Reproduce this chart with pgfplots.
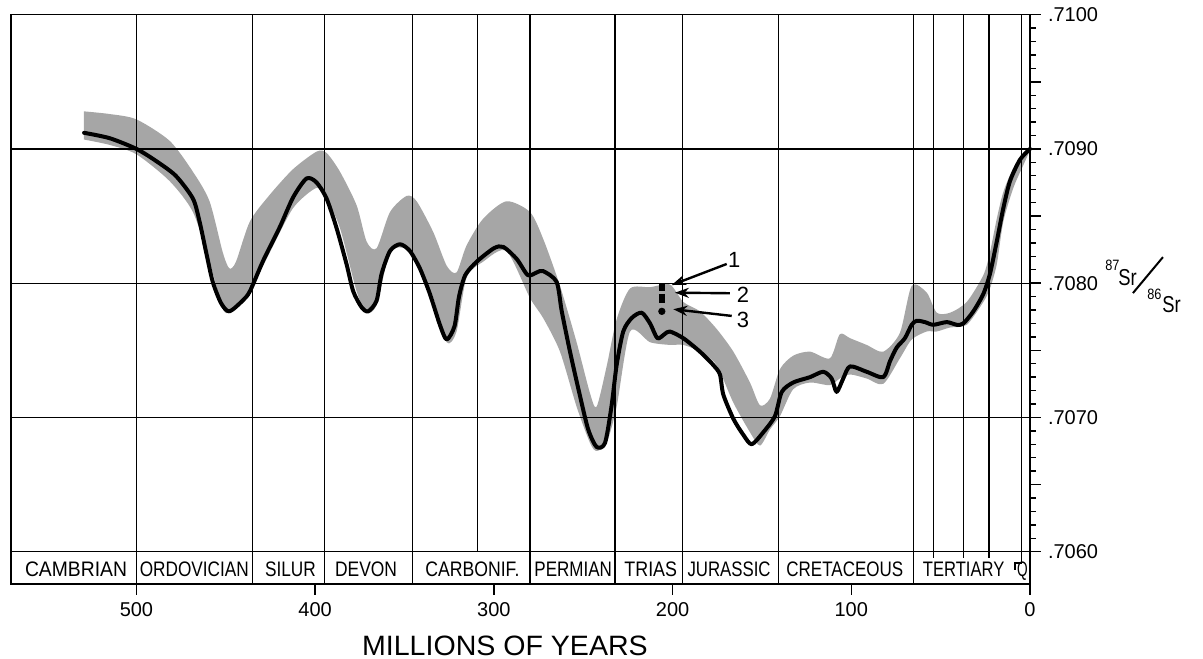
\documentclass[border=0pt]{standalone}
\usepackage{fontspec}
\setmainfont{Liberation Sans}
\usepackage{graphicx}
\usepackage{pgfplots}
\usepackage{pgfplotstable}
\pgfplotsset{compat=1.18}
\usetikzlibrary{arrows.meta}

% grey band: upper edge (old -> young), then lower edge (young -> old)
\pgfplotstableread{
a v
529.4 .70928
515 .70926
500 .70922
481.4 .70906
468.4 .70883
459.1 .70861
451.7 .70823
448 .70811
444.3 .70816
436.5 .70846
425.3 .70866
412.3 .70885
399.2 .70898
393.6 .70897
386.1 .70883
376.8 .70858
371.2 .70831
365.6 .70826
358.1 .70853
348.8 .70865
343.2 .70861
333.9 .70838
326.4 .70813
320.9 .70808
315.3 .70828
306 .70848
293 .70861
279.8 .70853
272.4 .70833
263 .70798
253.7 .70756
246.2 .70718
242.5 .70708
236.9 .70738
231.3 .70773
223.8 .70796
212.6 .70797
201.5 .70799
194 .70786
184.7 .70779
175.4 .70766
166 .70749
156.7 .70726
151.1 .70709
145.5 .70714
139.9 .70736
132.5 .70746
123.1 .70749
112 .70744
106.4 .70762
100.7 .70759
91.4 .70754
82.1 .70749
72.8 .70763
66.2 .70798
57.8 .70793
52.2 .70778
44.7 .70778
35.4 .70786
26.1 .70806
22.4 .70823
18.6 .70848
14.9 .70868
9.3 .70886
3.7 .70896
0 .70900
0 .70899
3.7 .70888
9.3 .70871
14.9 .70846
18.6 .70814
22.4 .70796
26.1 .70786
35.4 .70769
44.7 .70767
52.2 .70764
57.8 .70764
66.2 .70758
72.8 .70744
82.1 .70725
91.4 .70729
100.7 .70732
106.4 .70729
112 .70724
123.1 .70726
132.5 .70721
139.9 .70701
145.5 .70691
151.1 .70679
156.7 .70689
166 .70711
175.4 .70739
184.7 .70749
194 .70754
201.5 .70754
212.6 .70756
223.8 .70764
231.3 .70708
236.9 .70681
242.5 .70675
246.2 .70681
253.7 .70708
263 .70749
272.4 .70774
279.8 .70789
293 .70824
306 .70816
315.3 .70804
320.9 .70764
326.4 .70756
333.9 .70789
343.2 .70819
348.8 .70826
358.1 .70823
365.6 .70784
371.2 .70778
376.8 .70794
386.1 .70841
393.6 .70863
399.2 .70871
412.3 .70856
425.3 .70823
436.5 .70794
444.3 .70783
448 .70778
451.7 .70781
459.1 .70816
468.4 .70853
481.4 .70876
500 .70896
515 .70903
529.4 .70907
}\bandpoly

\pgfplotstableread{
a v
529.3 .70912
515 .70908
500 .70900
489 .70891
478 .70880
468.4 .70863
464.7 .70846
461 .70823
457.3 .70801
452.6 .70785
448 .70779
440.6 .70787
436.5 .70794
429 .70817
419.7 .70842
412.3 .70864
404.8 .70878
399.2 .70875
393.6 .70863
388 .70841
382.4 .70814
378.7 .70794
374 .70782
370.3 .70779
365.6 .70787
362.8 .70807
358.1 .70824
352.5 .70829
347 .70824
341.4 .70811
335.8 .70792
330.2 .70769
326.4 .70758
322 .70768
319.5 .70790
316 .70806
309.6 .70816
300 .70826
294.7 .70827
287.2 .70818
281 .70806
276 .70808
272.4 .70809
264.9 .70801
262 .70779
257.4 .70749
251.8 .70716
247.2 .70691
242.5 .70678
237.8 .70681
234.1 .70709
231.3 .70739
227.6 .70764
222.9 .70774
217.3 .70778
212.6 .70770
208.5 .70759
204.5 .70762
201.5 .70764
194 .70759
184.7 .70749
177.2 .70739
173.5 .70732
171.6 .70717
166 .70699
160.4 .70687
155.7 .70680
149.2 .70689
142.7 .70701
138.9 .70719
132.5 .70726
123.1 .70730
115.7 .70734
111 .70729
108.2 .70719
104.5 .70729
100.7 .70738
91.4 .70734
82.1 .70730
78.3 .70742
74.6 .70752
70 .70759
66.2 .70769
63.4 .70772
58.8 .70771
54.1 .70769
46.6 .70771
41 .70769
37.3 .70770
31.7 .70779
26.1 .70792
22.4 .70807
18.6 .70831
14.9 .70856
11.2 .70876
5.6 .70892
0 .70900
}\srline

\newcommand{\plab}[2]{\scalebox{#1}[1]{#2}}

\begin{document}
\begin{tikzpicture}
\path[use as bounding box] (-5.5pt,-37pt) rectangle (596pt,292pt);
\begin{axis}[
  at={(0,0)}, anchor=south west,
  scale only axis, width=509.5pt, height=284.65pt,
  x dir=reverse, xmin=0, xmax=570.2,
  ymin=0.705759, ymax=0.7100,
  axis line style={line width=0.7pt},
  xtick={0,100,200,300,400,500}, xticklabels={0,100,200,300,400,500},
  xtick pos=left,
  ytick={0.706,0.707,0.708,0.709,0.710},
  yticklabels={.7060,.7070,.7080,.7090,.7100},
  ytick pos=right, yticklabel pos=right,
  minor y tick num=9,
  extra y ticks={0.7065,0.7075,0.7085,0.7095}, extra y tick labels={},
  tick align=outside,
  major tick length=5.5pt, minor tick length=3pt,
  tick style={black, line width=0.7pt},
  tick label style={font=\fontsize{10}{12}\selectfont},
  clip=false,
]
% band
\addplot[fill=black!35, draw=none, smooth, tension=0.45] table[x=a,y=v]{\bandpoly} -- cycle;

% horizontal grid lines
\foreach \yy in {0.706,0.707,0.708,0.709}{
  \edef\tmp{\noexpand\draw[line width=0.65pt] (axis cs:570.2,\yy) -- (axis cs:0,\yy);}\tmp
}
% full-height period boundaries
\foreach \xx in {499.9,435,394.9,345.7,279.8,232.2,194.4,140.9,65.3}{
  \edef\tmp{\noexpand\draw[line width=0.6pt] (axis cs:\xx,0.705759) -- (axis cs:\xx,0.7100);}\tmp
}
% partial lines
\draw[line width=0.6pt] (axis cs:309.3,0.7060) -- (axis cs:309.3,0.7100);
\foreach \xx in {54.1,37.3,22.9}{
  \edef\tmp{\noexpand\draw[line width=0.6pt] (axis cs:\xx,0.705955) -- (axis cs:\xx,0.7100);}\tmp
}
\draw[line width=0.6pt] (axis cs:4.6,0.7100) -- (axis cs:4.6,0.705916) -- (axis cs:8.4,0.705916) -- (axis cs:8.4,0.705864);

% main curve
\addplot[black, line width=2pt, smooth, tension=0.45, line join=round, line cap=round] table[x=a,y=v]{\srline};

% data points 1,2,3
\addplot[black, line width=2.8pt] coordinates {(206,0.70800) (206,0.70794)};
\addplot[black, line width=2.8pt] coordinates {(206,0.70792) (206,0.70785)};
\addplot[black, only marks, mark=*, mark size=1.6pt] coordinates {(206,0.70779)};

% arrows
\draw[line width=1.2pt, -{Stealth[length=7pt,width=5pt]}] (axis cs:169.7,0.708143) -- (axis cs:200.5,0.707986);
\draw[line width=1.2pt, -{Stealth[length=7pt,width=5pt]}] (axis cs:167.9,0.707925) -- (axis cs:198.7,0.707929);
\draw[line width=1.2pt, -{Stealth[length=7pt,width=5pt]}] (axis cs:166.9,0.707756) -- (axis cs:199.6,0.707806);
\node[font=\fontsize{11}{13}\selectfont] at (axis cs:165.5,0.708175) {1};
\node[font=\fontsize{11}{13}\selectfont] at (axis cs:160.6,0.707912) {2};
\node[font=\fontsize{11}{13}\selectfont] at (axis cs:160.6,0.707726) {3};

% period labels
\node[anchor=base, font=\fontsize{10.5}{12}\selectfont, inner sep=0pt] at (axis cs:533.8,0.705814) {\plab{0.92}{CAMBRIAN}};
\node[anchor=base, font=\fontsize{10.5}{12}\selectfont, inner sep=0pt] at (axis cs:467.6,0.705814) {\plab{0.82}{ORDOVICIAN}};
\node[anchor=base, font=\fontsize{10.5}{12}\selectfont, inner sep=0pt] at (axis cs:413.8,0.705814) {\plab{0.82}{SILUR}};
\node[anchor=base, font=\fontsize{10.5}{12}\selectfont, inner sep=0pt] at (axis cs:371.5,0.705814) {\plab{0.83}{DEVON}};
\node[anchor=base, font=\fontsize{10.5}{12}\selectfont, inner sep=0pt] at (axis cs:312,0.705814) {\plab{0.84}{CARBONIF.}};
\node[anchor=base, font=\fontsize{10.5}{12}\selectfont, inner sep=0pt] at (axis cs:255.6,0.705814) {\plab{0.81}{PERMIAN}};
\node[anchor=base, font=\fontsize{10.5}{12}\selectfont, inner sep=0pt] at (axis cs:212.2,0.705814) {\plab{0.85}{TRIAS}};
\node[anchor=base, font=\fontsize{10.5}{12}\selectfont, inner sep=0pt] at (axis cs:168.4,0.705814) {\plab{0.8}{JURASSIC}};
\node[anchor=base, font=\fontsize{10.5}{12}\selectfont, inner sep=0pt] at (axis cs:103.6,0.705814) {\plab{0.81}{CRETACEOUS}};
\node[anchor=base, font=\fontsize{10.5}{12}\selectfont, inner sep=0pt] at (axis cs:37.1,0.705814) {\plab{0.79}{TERTIARY}};
\node[anchor=base, font=\fontsize{10.5}{12}\selectfont, inner sep=0pt] at (axis cs:4.3,0.705814) {\plab{0.65}{Q}};

% x axis label
\node[anchor=base, font=\fontsize{14}{16}\selectfont, inner sep=0pt] at (axis cs:293.8,0.705230) {\scalebox{1.02}[1]{MILLIONS OF YEARS}};

% y label 87Sr/86Sr
\node[anchor=base west, inner sep=0pt, font=\fontsize{7.5}{9}\selectfont] at (axis cs:-41.97,0.708098) {\scalebox{0.85}[1]{87}};
\node[anchor=base west, inner sep=0pt, font=\fontsize{11.5}{14}\selectfont] at (axis cs:-49.24,0.707986) {\scalebox{0.8}[1]{Sr}};
\draw[line width=1pt] (axis cs:-57.6,0.707926) -- (axis cs:-74.4,0.708194);
\node[anchor=base west, inner sep=0pt, font=\fontsize{7.5}{9}\selectfont] at (axis cs:-65.47,0.707875) {\scalebox{0.85}[1]{86}};
\node[anchor=base west, inner sep=0pt, font=\fontsize{11.5}{14}\selectfont] at (axis cs:-73.85,0.707785) {\scalebox{0.8}[1]{Sr}};
\end{axis}
\end{tikzpicture}
\end{document}
